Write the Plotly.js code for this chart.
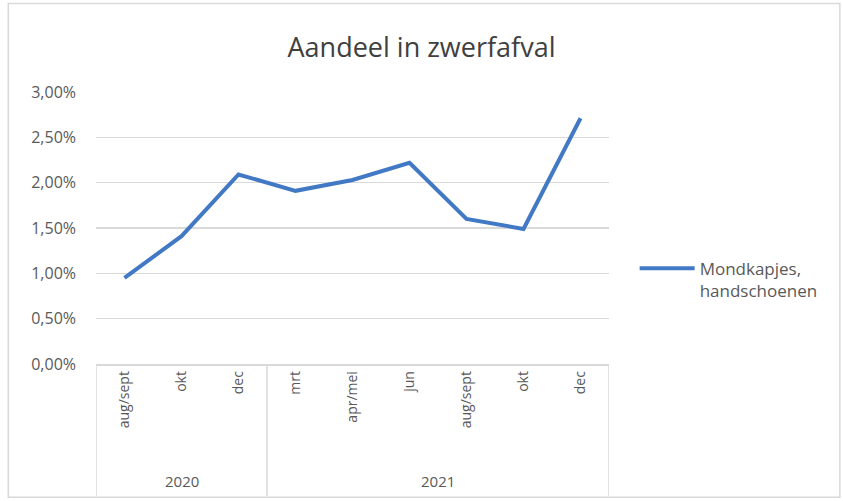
<!DOCTYPE html>
<html>
<head>
<meta charset="utf-8">
<script src="https://cdn.plot.ly/plotly-3.0.1.min.js"></script>
<style>
  html, body { margin: 0; padding: 0; background: #ffffff; }
  #chart { width: 843px; height: 501px; }
</style>
</head>
<body>
<div id="chart"></div>
<script>
// ---- data ----
const years = ["2020", "2020", "2020", "2021", "2021", "2021", "2021", "2021", "2021"];
const months = ["aug/sept", "okt", "dec", "mrt", "apr/mei", "jun", "aug/sept", "okt", "dec"];
const share = [0.0095, 0.0141, 0.0209, 0.0191, 0.0203, 0.0222, 0.0160, 0.0149, 0.0271];
const seriesName = "Mondkapjes,<br>handschoenen";
const yTicks = [0, 0.005, 0.01, 0.015, 0.02, 0.025, 0.03];

// ---- derived ----
const idx = months.map((_, i) => i);
const groups = [];
years.forEach((y, i) => {
  const last = groups[groups.length - 1];
  if (last && last.year === y) { last.end = i; }
  else { groups.push({ year: y, start: i, end: i }); }
});

const FONT = "Open Sans, Lato, sans-serif";
const GREY = "#595959";
const LINE_GREY = "#d9d9d9";

const shapes = [];
// category box: vertical dividers at group boundaries
const bounds = [groups[0].start - 0.5].concat(groups.map(g => g.end + 0.5));
bounds.forEach(b => {
  shapes.push({ type: "line", xref: "x", yref: "paper", x0: b, x1: b, y0: 0, y1: -0.485,
                line: { color: LINE_GREY, width: 1.5 } });
});
// outer chart frame
shapes.push({ type: "rect", xref: "paper", yref: "paper", x0: -0.171, x1: 1.45, y0: -0.49, y1: 1.325,
              line: { color: LINE_GREY, width: 1.5 }, layer: "below" });

const annotations = groups.map(g => ({
  xref: "x", yref: "paper", x: (g.start + g.end) / 2, y: -0.43,
  text: g.year, showarrow: false, xanchor: "center", yanchor: "middle",
  font: { family: FONT, size: 15, color: GREY }
}));

const trace = {
  type: "scatter", mode: "lines", x: idx, y: share, name: seriesName,
  line: { color: "#4179c4", width: 4 }
};

const layout = {
  width: 843, height: 501,
  margin: { l: 96, r: 234, t: 92, b: 137 },
  paper_bgcolor: "#ffffff", plot_bgcolor: "#ffffff",
  separators: ", ",
  title: { text: "Aandeel in zwerfafval", x: 0.5, xref: "container", xanchor: "center",
           y: 0.905, yanchor: "middle",
           font: { family: FONT, size: 27, color: "#404040" } },
  showlegend: true,
  legend: { x: 1.05, y: 0.31, xanchor: "left", yanchor: "middle", valign: "top",
            itemwidth: 55, tracegroupgap: 0,
            font: { family: FONT, size: 17, color: GREY }, bgcolor: "rgba(0,0,0,0)" },
  xaxis: {
    range: [-0.5, months.length - 0.5], tickmode: "array", tickvals: idx, ticktext: months,
    tickangle: -90, showgrid: false, zeroline: false, showline: true, linecolor: LINE_GREY, linewidth: 1.5,
    ticks: "", tickfont: { family: FONT, size: 14, color: GREY }, fixedrange: true
  },
  yaxis: {
    range: [0, 0.03], tickmode: "array", tickvals: yTicks, tickformat: ".2%",
    showgrid: true, gridcolor: LINE_GREY, gridwidth: 1.5, zeroline: false, showline: false,
    ticks: "", ticklabelstandoff: 19, tickfont: { family: FONT, size: 16, color: GREY }, fixedrange: true
  },
  shapes: shapes,
  annotations: annotations
};

Plotly.newPlot("chart", [trace], layout, { displayModeBar: false, staticPlot: true });
</script>
</body>
</html>
